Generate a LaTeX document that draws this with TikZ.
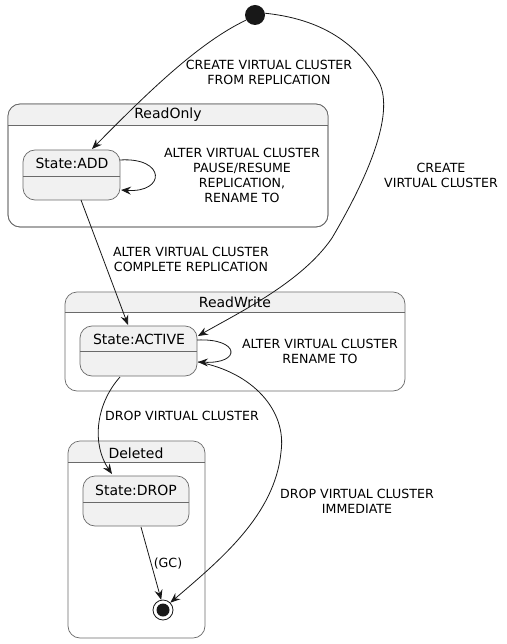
\documentclass[tikz,border=0pt]{standalone}
\usepackage{fontspec}
\setmainfont{DejaVu Sans}
\usetikzlibrary{arrows.meta,calc}
\definecolor{stfill}{HTML}{F1F1F1}
\definecolor{stline}{HTML}{6A6A6A}
\definecolor{arr}{HTML}{181818}
\tikzset{
  cluster/.style={draw=stline,line width=0.7pt,rounded corners=12pt,fill=white,inner sep=0pt},
  stbox/.style={draw=stline,line width=0.7pt,rounded corners=12pt,fill=stfill,inner sep=0pt},
  ttl/.style={font=\fontsize{14}{16}\selectfont,inner sep=0pt,text=black},
  lbl/.style={font=\fontsize{12.6}{15}\selectfont,align=center,inner sep=0pt,text=black},
  conn/.style={draw=arr,line width=0.8pt,-{Stealth[length=10pt,width=8pt,inset=3.5pt]}},
}
\begin{document}
\begin{tikzpicture}[x=1pt,y=-1pt]
\useasboundingbox (0,0) rectangle (506,644);
% clusters
\path[cluster] (8,104) rectangle (328,227);
\fill[stfill,rounded corners=12pt] (8.4,104.4) -- (327.6,104.4) -- (327.6,125) -- (8.4,125) -- cycle;
\fill[stfill] (8.4,115) rectangle (327.6,125);
\draw[stline,line width=0.7pt,rounded corners=12pt] (8,227) -- (8,104) -- (328,104) -- (328,227) -- cycle;
\draw[stline,line width=0.7pt] (8,125) -- (328,125);
\node[ttl] (ro) at (168,115) {ReadOnly};

\fill[stfill,rounded corners=12pt] (65.4,292.4) -- (404.6,292.4) -- (404.6,312) -- (65.4,312) -- cycle;
\fill[stfill] (65.4,302) rectangle (404.6,312);
\draw[stline,line width=0.7pt,rounded corners=12pt] (65,391) -- (65,292) -- (405,292) -- (405,391) -- cycle;
\draw[stline,line width=0.7pt] (65,312) -- (405,312);
\node[ttl] (rw) at (235,302) {ReadWrite};

\fill[stfill,rounded corners=12pt] (68.4,441.4) -- (204.6,441.4) -- (204.6,462) -- (68.4,462) -- cycle;
\fill[stfill] (68.4,452) rectangle (204.6,462);
\draw[stline,line width=0.7pt,rounded corners=12pt] (68,638) -- (68,441) -- (205,441) -- (205,638) -- cycle;
\draw[stline,line width=0.7pt] (68,462) -- (205,462);
\node[ttl] (del) at (136,453) {Deleted};

% states
\node[stbox,minimum width=97pt,minimum height=50pt] (add) at (71.5,175) {};
\draw[stline,line width=0.7pt] (23,176) -- (120,176);
\node[ttl] at (72,163) {State:ADD};

\node[stbox,minimum width=117pt,minimum height=50pt] (act) at (138.5,351) {};
\draw[stline,line width=0.7pt] (80,351) -- (197,351);
\node[ttl] at (139,339) {State:ACTIVE};

\node[stbox,minimum width=106pt,minimum height=50pt] (drop) at (136,501) {};
\draw[stline,line width=0.7pt] (83,502) -- (189,502);
\node[ttl] at (136,490) {State:DROP};

% pseudo states
\node[circle,fill=arr,minimum size=20pt,inner sep=0pt] (init) at (255,15) {};
\node[circle,draw=arr,line width=0.8pt,fill=white,minimum size=20pt,inner sep=0pt] (fin) at (163,610) {};
\fill[arr] (fin) circle (6.5);

% coordinates
\coordinate (addtop) at (92,149);
\coordinate (actne) at (198,336);
\coordinate (acte) at (198,362);
\coordinate (adde) at (121,190);

% connectors
\draw[conn] (init.210) .. controls (200,42) and (150,90) .. (addtop);
\draw[conn] (init.10) .. controls (330,20) and (360,50) .. (378,80)
   .. controls (395,110) and (372,170) .. (332,238)
   .. controls (302,282) and (240,312) .. (actne);
\draw[conn] (120,160) .. controls (166,157) and (166,193) .. (adde);
\draw[conn] (81,200) -- (128,325);
\draw[conn] (197,340) .. controls (240,338) and (242,364) .. (acte);
\draw[conn] (120,377) .. controls (95,405) and (92,445) .. (112,474);
\draw[conn] (acte) .. controls (252,372) and (287,410) .. (281,452)
   .. controls (275,515) and (220,560) .. (fin.45);
\draw[conn] (141,527) -- (fin.100);

% labels
\node[lbl] at (269,72) {CREATE VIRTUAL CLUSTER\\FROM REPLICATION};
\node[lbl] at (242,175) {ALTER VIRTUAL CLUSTER\\PAUSE/RESUME\\REPLICATION,\\RENAME TO};
\node[lbl] at (441,175.5) {CREATE\\VIRTUAL CLUSTER};
\node[lbl] at (191,259.5) {ALTER VIRTUAL CLUSTER\\COMPLETE REPLICATION};
\node[lbl] at (320,351) {ALTER VIRTUAL CLUSTER\\RENAME TO};
\node[lbl] at (182,416) {DROP VIRTUAL CLUSTER};
\node[lbl] at (357,501) {DROP VIRTUAL CLUSTER\\IMMEDIATE};
\node[lbl] at (168,564) {(GC)};
\end{tikzpicture}
\end{document}
